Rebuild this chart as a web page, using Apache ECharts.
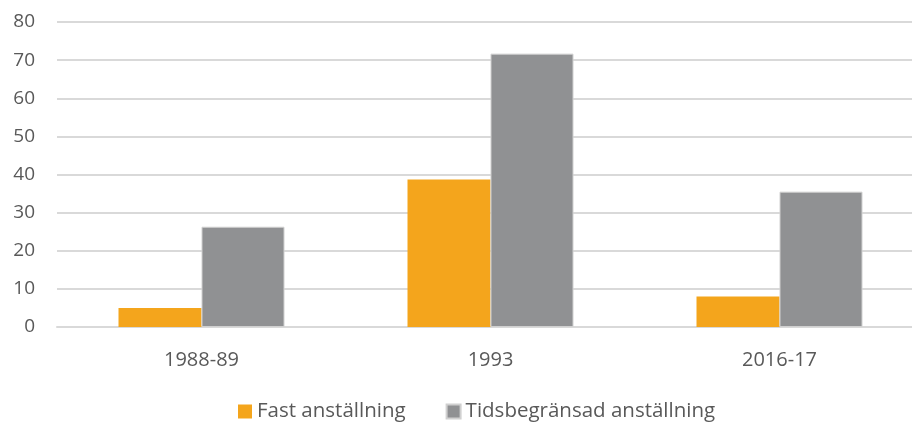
<!DOCTYPE html>
<html>
<head>
<meta charset="utf-8">
<script src="https://cdn.jsdelivr.net/npm/echarts@6/dist/echarts.min.js"></script>
<style>
  html, body { margin: 0; padding: 0; background: #fff; }
  #chart { width: 912px; height: 423px; }
</style>
</head>
<body>
<div id="chart"></div>
<script>
  const categories = ['1988-89', '1993', '2016-17']
  const fastValues = [5.0, 38.7, 8.0]
  const tidsValues = [26.3, 71.7, 35.5]
  const yTicks = [0, 10, 20, 30, 40, 50, 60, 70, 80]

  const font = '"Open Sans", "Liberation Sans", sans-serif'
  const chart = echarts.init(document.getElementById('chart'))

  chart.setOption({
    animation: false,
    textStyle: { fontFamily: font },
    grid: {
      left: 57, width: 867, top: 22, bottom: 96,
      containLabel: false, outerBoundsMode: 'none'
    },
    legend: {
      top: 401,
      left: 238,
      itemWidth: 14,
      itemHeight: 14,
      itemGap: 40,
      itemTextGap: 6,
      padding: 0,
      icon: 'rect',
      textStyle: { fontFamily: font, fontSize: 20.5, color: '#595959' },
      data: ['Fast anställning', 'Tidsbegränsad anställning']
    },
    xAxis: {
      type: 'category',
      data: categories,
      axisLine: { lineStyle: { color: '#d9d9d9', width: 2 } },
      axisTick: { show: false },
      axisLabel: { fontFamily: font, fontSize: 20, color: '#595959', margin: 23 }
    },
    yAxis: {
      type: 'value',
      min: yTicks[0],
      max: yTicks[yTicks.length - 1],
      interval: 10,
      axisLine: { show: false },
      axisTick: { show: false },
      splitLine: { lineStyle: { color: '#d9d9d9', width: 2 } },
      axisLabel: { fontFamily: font, fontSize: 19, color: '#595959', margin: 22 }
    },
    series: [
      {
        name: 'Fast anställning',
        type: 'bar',
        data: fastValues,
        barGap: '0%',
        barWidth: 83,
        itemStyle: { color: '#F4A51C' }
      },
      {
        name: 'Tidsbegränsad anställning',
        type: 'bar',
        data: tidsValues,
        barWidth: 83,
        itemStyle: { color: '#909193', borderColor: '#d0d0d0', borderWidth: 1 }
      }
    ]
  })
</script>
</body>
</html>
